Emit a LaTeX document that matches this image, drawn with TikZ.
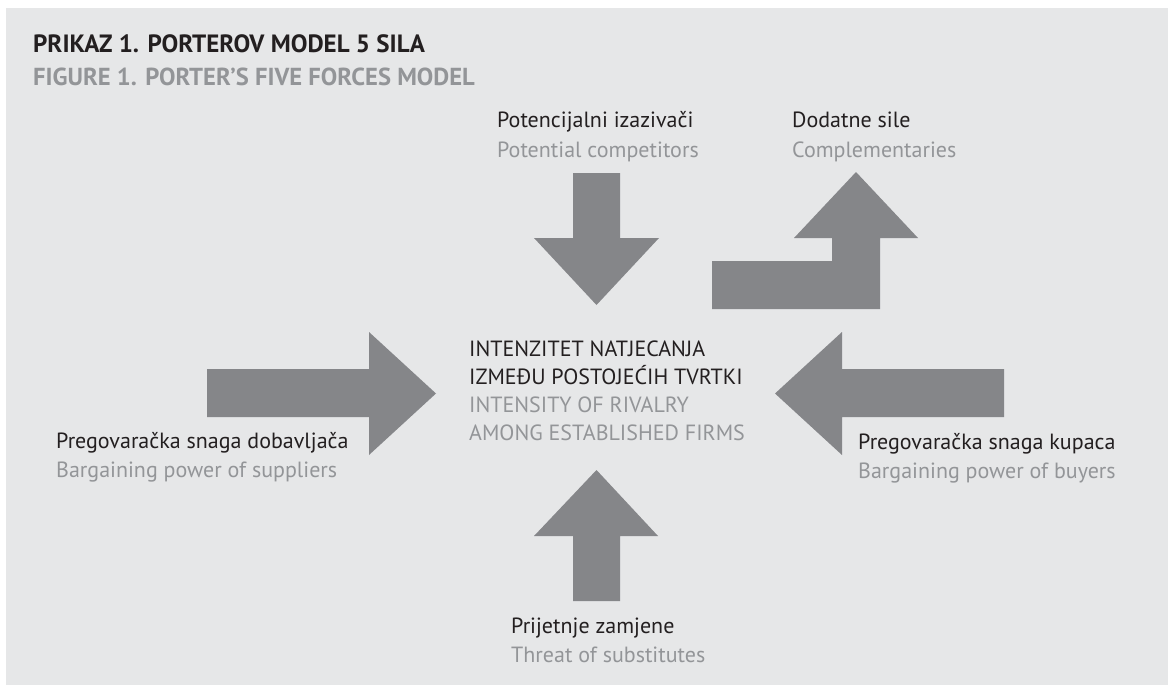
\documentclass[tikz,border=0pt]{standalone}
\usepackage{fontspec}
\setmainfont{PT Sans}
\definecolor{bgc}{HTML}{E6E7E8}
\definecolor{arrc}{HTML}{858689}
\definecolor{txtk}{HTML}{231F20}
\definecolor{txtg}{HTML}{939598}
\tikzset{
  force/.style={fill=arrc, draw=none},
  lblk/.style={anchor=base west, inner sep=0pt, text=txtk, font=\fontsize{22}{26}\selectfont},
  lblg/.style={anchor=base west, inner sep=0pt, text=txtg, font=\fontsize{22}{26}\selectfont},
  ttlk/.style={anchor=base west, inner sep=0pt, text=txtk, font=\bfseries\fontsize{25}{28}\selectfont},
  ttlg/.style={anchor=base west, inner sep=0pt, text=txtg, font=\bfseries\fontsize{24.6}{28}\selectfont}
}
\begin{document}
\begin{tikzpicture}[x=1pt,y=-1pt]
\useasboundingbox (0,0) rectangle (1168,685);
\fill[white] (0,0) rectangle (1168,685);
\fill[bgc] (6,8) rectangle (1168,685);
% titles
\node[ttlk] (t1) at (33,53) {PRIKAZ 1. PORTEROV MODEL 5 SILA};
\node[ttlg] (t2) at (33,85) {FIGURE 1. PORTER’S FIVE FORCES MODEL};
% top arrow (down)
\fill[force] (573,173) -- (620,173) -- (620,238) -- (659,238) -- (596.5,305) -- (534,238) -- (573,238) -- cycle;
% bent arrow
\fill[force] (712,261) -- (832,261) -- (832,238) -- (794,238) -- (856,172) -- (918,238) -- (880,238) -- (880,309) -- (712,309) -- cycle;
% left arrow (right-pointing)
\fill[force] (207,369) -- (369,369) -- (369,332) -- (436,393.5) -- (369,455) -- (369,417) -- (207,417) -- cycle;
% right arrow (left-pointing)
\fill[force] (1004,369) -- (842,369) -- (842,332) -- (775,393.5) -- (842,455) -- (842,417) -- (1004,417) -- cycle;
% bottom arrow (up)
\fill[force] (573,601) -- (620,601) -- (620,536) -- (658,536) -- (596.5,470) -- (534,536) -- (573,536) -- cycle;
% labels
\node[lblk] (pk) at (497,127) {Potencijalni izazivači};
\node[lblg] (pe) at (497,157) {Potential competitors};
\node[lblk] (dk) at (792,127) {Dodatne sile};
\node[lblg] (de) at (792,157) {Complementaries};
\node[lblk] (c1) at (469,356) {INTENZITET NATJECANJA};
\node[lblk] (c2) at (469,384) {IZMEĐU POSTOJEĆIH TVRTKI};
\node[lblg] (c3) at (469,412) {INTENSITY OF RIVALRY};
\node[lblg] (c4) at (469,440) {AMONG ESTABLISHED FIRMS};
\node[lblk] (sk) at (56,448) {Pregovaračka snaga dobavljača};
\node[lblg] (se) at (56,477) {Bargaining power of suppliers};
\node[lblk] (bk) at (858,449) {Pregovaračka snaga kupaca};
\node[lblg] (be) at (858,478) {Bargaining power of buyers};
\node[lblk] (zk) at (511,633) {Prijetnje zamjene};
\node[lblg] (ze) at (511,662) {Threat of substitutes};
\end{tikzpicture}
\end{document}
